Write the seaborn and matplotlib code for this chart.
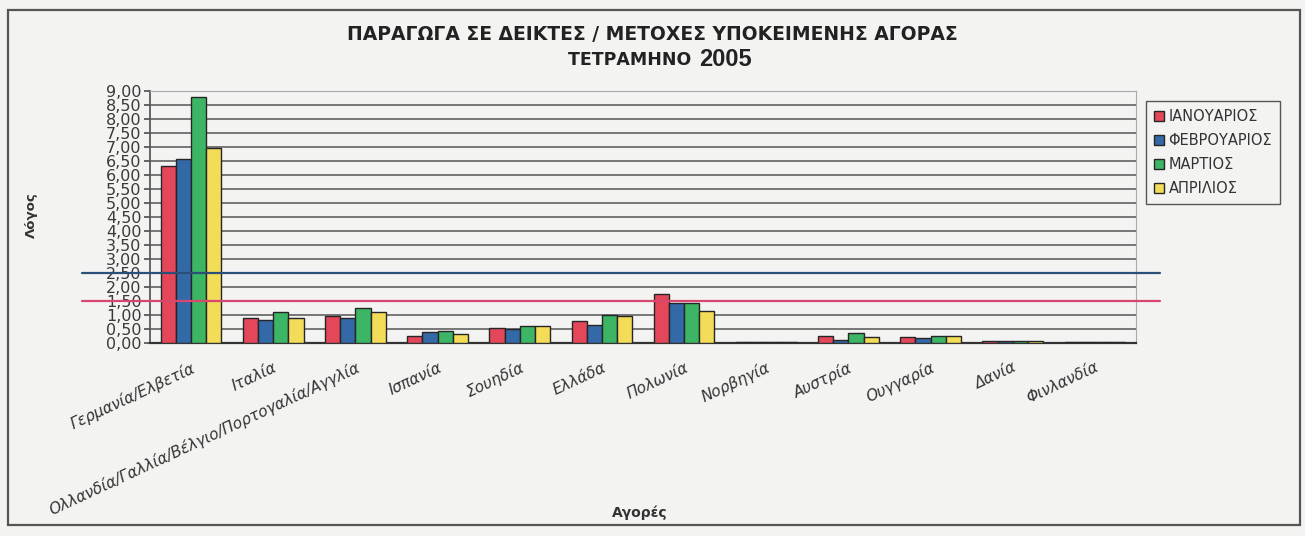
import matplotlib
matplotlib.use("Agg")
import matplotlib.pyplot as plt
import matplotlib.patches as mpatches
import numpy as np
import pandas as pd
import seaborn as sns

# Markets (x categories)
markets = [
    "Γερμανία/Ελβετία", "Ιταλία", "Ολλανδία/Γαλλία/Βέλγιο/Πορτογαλία/Αγγλία",
    "Ισπανία", "Σουηδία", "Ελλάδα", "Πολωνία", "Νορβηγία", "Αυστρία",
    "Ουγγαρία", "Δανία", "Φινλανδία",
]
months = ["ΙΑΝΟΥΑΡΙΟΣ", "ΦΕΒΡΟΥΑΡΙΟΣ", "ΜΑΡΤΙΟΣ", "ΑΠΡΙΛΙΟΣ"]

# Ratio per market, one list per month
jan = [6.33, 0.91, 0.97, 0.26, 0.55, 0.77, 1.76, 0.02, 0.25, 0.22, 0.06, 0.02]
feb = [6.58, 0.83, 0.91, 0.38, 0.49, 0.66, 1.43, 0.02, 0.10, 0.18, 0.06, 0.02]
mar = [8.80, 1.10, 1.25, 0.43, 0.61, 1.00, 1.43, 0.02, 0.36, 0.24, 0.06, 0.02]
apr = [6.98, 0.90, 1.10, 0.31, 0.61, 0.95, 1.13, 0.02, 0.20, 0.24, 0.06, 0.02]

# Reference levels drawn across the chart
upper_level = 2.5
lower_level = 1.5

y_ticks = np.arange(0, 9.01, 0.5)

colors = ["#e4475a", "#3469a8", "#3cb565", "#f3dc58"]

df = pd.DataFrame({
    "market": np.tile(markets, 4),
    "month": np.repeat(months, len(markets)),
    "ratio": jan + feb + mar + apr,
})

sns.set_theme(style="white")
plt.rcParams["font.family"] = ["DejaVu Sans"]

bg = "#f3f3f2"
fig = plt.figure(figsize=(13.05, 5.36), dpi=100, facecolor=bg)
ax = fig.add_axes([150 / 1305, 1 - 343 / 536, (1136 - 150) / 1305, (343 - 91) / 536])
ax.set_facecolor(bg)

sns.barplot(data=df, x="market", y="ratio", hue="month", palette=colors,
            saturation=1, edgecolor="#262626", linewidth=1.0, width=0.74,
            ax=ax, errorbar=None, zorder=3)

ax.set_ylim(0, 9.0)
ax.set_xlim(-0.5, len(markets) - 0.5)
ax.set_yticks(y_ticks)
ax.set_yticklabels([f"{v:.2f}".replace(".", ",") for v in y_ticks],
                   fontsize=11.5, color="#3a3a3a")
ax.yaxis.grid(True, color="#555555", linewidth=1.1, zorder=0)
ax.set_axisbelow(True)

ax.set_xticks(range(len(markets)))
ax.set_xticklabels(markets, rotation=25, ha="right", rotation_mode="anchor",
                   fontsize=11, style="italic", color="#333333")
ax.tick_params(axis="x", length=0, pad=12)
ax.set_xticks(np.arange(-0.5, len(markets), 1), minor=True)
ax.tick_params(axis="x", which="minor", length=4, color="#555555", direction="out")
ax.tick_params(axis="y", length=4, color="#555555", direction="out", left=True, pad=2)

for side in ["top", "right"]:
    ax.spines[side].set_color("#aaaaaa")
    ax.spines[side].set_linewidth(0.8)
ax.spines["left"].set_color("#555555")
ax.spines["bottom"].set_color("#333333")
ax.spines["bottom"].set_linewidth(1.6)

ax.set_xlabel("")
ax.set_ylabel("")

# Threshold lines extending past the plot frame
ax.axhline(upper_level, xmin=-0.069, xmax=1.024, color="#2c4f78",
           linewidth=1.6, clip_on=False, zorder=5)
ax.axhline(lower_level, xmin=-0.069, xmax=1.024, color="#d8486e",
           linewidth=1.6, clip_on=False, zorder=5)

# Legend at the right
handles, labels = ax.get_legend_handles_labels()
if ax.get_legend() is not None:
    ax.get_legend().remove()
fig.legend(handles, labels, loc="upper left",
           bbox_to_anchor=(1146 / 1305, 1 - 101 / 536),
           fontsize=10.5, frameon=True, fancybox=False, edgecolor="#555555",
           facecolor=bg, framealpha=1, handlelength=0.7, handleheight=0.7,
           handletextpad=0.3, labelspacing=0.62, borderpad=0.55,
           borderaxespad=0, labelcolor="#333333")
fig.legends[0].get_frame().set_linewidth(1.0)

# Titles and axis names
fig.text(652 / 1305, 1 - 35 / 536,
         "ΠΑΡΑΓΩΓΑ ΣΕ ΔΕΙΚΤΕΣ / ΜΕΤΟΧΕΣ ΥΠΟΚΕΙΜΕΝΗΣ ΑΓΟΡΑΣ",
         ha="center", va="center", fontsize=13.5, fontweight="bold", color="#222222")
fig.text(697 / 1305, 1 - 60 / 536, "ΤΕΤΡΑΜΗΝΟ ", ha="right", va="center",
         fontsize=12.5, fontweight="bold", color="#222222")
fig.text(699 / 1305, 1 - 59 / 536, "2005", ha="left", va="center",
         fontsize=17, fontweight="bold", color="#222222",
         family=["Liberation Sans Narrow", "Liberation Sans"])
fig.text(640 / 1305, 1 - 513 / 536, "Αγορές", ha="center", va="center",
         fontsize=10, fontweight="bold", color="#333333")
fig.text(31 / 1305, 1 - 215 / 536, "Λόγος", ha="center", va="center",
         rotation=90, fontsize=9.5, fontweight="bold", color="#333333")

# Outer chart border
fig.patches.append(mpatches.Rectangle(
    (8 / 1305, 1 - 525 / 536), (1300 - 8) / 1305, (525 - 10) / 536,
    transform=fig.transFigure, fill=False, edgecolor="#555555", linewidth=1.6))

fig.savefig("out.png", dpi=100, facecolor=bg)
